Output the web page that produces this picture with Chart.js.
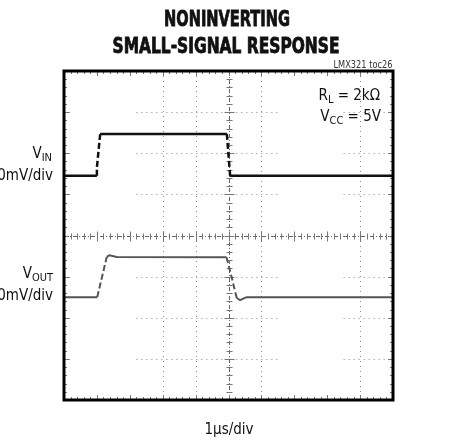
<!DOCTYPE html>
<html>
<head>
<meta charset="utf-8">
<script src="https://cdn.jsdelivr.net/npm/chart.js@4/dist/chart.umd.min.js"></script>
<style>
html, body { margin: 0; padding: 0; background: #fff; }
canvas { display: block; }
</style>
</head>
<body>
<canvas id="scope" width="457" height="440"></canvas>
<script>
// Traces in screen divisions (x: 1us/div, y: 50mV/div)
const vinTime  = [0, 1.0, 1.0, 1.1, 4.95, 5.05, 10];
const vinLevel = [5.45, 5.45, 5.65, 6.47, 6.47, 5.45, 5.45];
const voutTime  = [0, 1.01, 1.3, 1.38, 1.6, 4.94, 5.1, 5.25, 5.35, 5.55, 10];
const voutLevel = [2.5, 2.5, 3.48, 3.52, 3.48, 3.47, 2.97, 2.48, 2.43, 2.5, 2.5];

// graticule pieces that actually show on the screen
const gridCols = [3, 4, 6, 9];
const gridRows = [1, 2, 3, 5, 6, 7];
const gridRowSpans = [[0, 0.25], [2.2, 6.6], [8.5, 10]];

const FONT = "'Liberation Sans Narrow', 'DejaVu Sans Condensed', 'Arial Narrow', sans-serif";

function line(ctx, x0, y0, x1, y1) {
    ctx.beginPath();
    ctx.moveTo(x0, y0);
    ctx.lineTo(x1, y1);
    ctx.stroke();
}

// squeeze/stretch a string to a given width (the scope fonts are condensed)
function fitText(ctx, str, cx, base, w, heavy) {
    const m = ctx.measureText(str).width;
    ctx.save();
    ctx.translate(cx, base);
    ctx.scale(w / m, 1);
    ctx.textAlign = 'center';
    ctx.fillText(str, 0, 0);
    if (heavy) {
        ctx.lineWidth = 0.8;
        ctx.strokeStyle = ctx.fillStyle;
        ctx.strokeText(str, 0, 0);
    }
    ctx.restore();
}

// text with a subscript part, right aligned at xr
function subText(ctx, parts, xr, base, size) {
    const big = size + 'px ' + FONT;
    const small = Math.round(size * 0.72) + 'px ' + FONT;
    let total = 0;
    parts.forEach(p => { ctx.font = p[1] ? small : big; total += ctx.measureText(p[0]).width; });
    let x = xr - total;
    ctx.textAlign = 'left';
    parts.forEach(p => {
        ctx.font = p[1] ? small : big;
        ctx.fillText(p[0], x, p[1] ? base + 3 : base);
        x += ctx.measureText(p[0]).width;
    });
}

const steepDash = c => {
    const dx = Math.abs(c.p1.x - c.p0.x), dy = Math.abs(c.p1.y - c.p0.y);
    return dy > 2 * dx + 4 ? [6, 3] : undefined;
};

const scopeScreen = {
    id: 'scopeScreen',
    beforeDatasetsDraw(chart) {
        const { ctx, chartArea: a, scales: { x, y } } = chart;
        ctx.save();
        ctx.lineWidth = 1;
        ctx.strokeStyle = '#8a8a8a';
        ctx.setLineDash([1, 4]);
        gridCols.forEach(v => {
            const px = Math.round(x.getPixelForValue(v)) + 0.5;
            line(ctx, px, a.top, px, a.bottom);
        });
        gridRows.forEach(r => {
            const py = Math.round(y.getPixelForValue(r)) + 0.5;
            gridRowSpans.forEach(([s, e]) => line(ctx, x.getPixelForValue(s), py, x.getPixelForValue(e), py));
        });

        // centre cross, dash-dot
        ctx.strokeStyle = '#666';
        ctx.setLineDash([4, 2, 1, 2]);
        const cy = Math.round(y.getPixelForValue(4)) + 0.5;
        const cx = Math.round(x.getPixelForValue(5)) + 0.5;
        line(ctx, a.left, cy, a.right, cy);
        line(ctx, cx, a.top, cx, a.bottom);

        // minor ticks, 5 per division
        ctx.setLineDash([]);
        ctx.strokeStyle = '#777';
        for (let i = 0; i <= 50; i++) {
            const px = Math.round(x.getPixelForValue(i / 5)) + 0.5;
            const len = i % 5 === 0 ? 5 : 3;
            line(ctx, px, a.top, px, a.top + len);
            line(ctx, px, a.bottom - len, px, a.bottom);
            line(ctx, px, cy - len, px, cy + len);
        }
        for (let i = 0; i <= 40; i++) {
            const py = Math.round(y.getPixelForValue(i / 5)) + 0.5;
            const len = i % 5 === 0 ? 5 : 3;
            line(ctx, a.left, py, a.left + len, py);
            line(ctx, a.right - len, py, a.right, py);
            line(ctx, cx - len, py, cx + len, py);
        }
        ctx.restore();
    },
    afterDraw(chart) {
        const { ctx, chartArea: a } = chart;
        ctx.save();
        ctx.strokeStyle = '#000';
        ctx.lineWidth = 3;
        ctx.strokeRect(a.left, a.top, a.right - a.left, a.bottom - a.top);

        ctx.fillStyle = '#111';
        ctx.font = 'bold 21px ' + FONT;
        fitText(ctx, 'NONINVERTING', 227, 26, 126, true);
        fitText(ctx, 'SMALL-SIGNAL RESPONSE', 226, 53, 227, true);

        ctx.fillStyle = '#333';
        ctx.font = '10px ' + FONT;
        fitText(ctx, 'LMX321 toc26', 363, 68, 59);

        ctx.fillStyle = '#111';
        subText(ctx, [['R'], ['L', 1], [' = 2k\u03a9']], 380, 100, 15);
        subText(ctx, [['V'], ['CC', 1], [' = 5V']], 381, 121, 15);

        subText(ctx, [['V'], ['IN', 1]], 52, 158, 15);
        subText(ctx, [['50mV/div']], 53, 180, 15);
        subText(ctx, [['V'], ['OUT', 1]], 53, 278, 15);
        subText(ctx, [['50mV/div']], 53, 300, 15);

        ctx.font = '15px ' + FONT;
        ctx.textAlign = 'center';
        ctx.fillText('1\u00b5s/div', 229, 434);
        ctx.restore();
    }
};

const chart = new Chart(document.getElementById('scope'), {
    type: 'line',
    data: {
        datasets: [
            {
                label: 'VIN',
                data: vinTime.map((t, i) => ({ x: t, y: vinLevel[i] })),
                borderColor: '#111',
                borderWidth: 2.5,
                pointRadius: 0,
                tension: 0,
                segment: { borderDash: steepDash },
            },
            {
                label: 'VOUT',
                data: voutTime.map((t, i) => ({ x: t, y: voutLevel[i] })),
                borderColor: '#555',
                borderWidth: 2,
                pointRadius: 0,
                tension: 0,
                segment: { borderDash: steepDash },
            },
        ],
    },
    options: {
        responsive: false,
        animation: false,
        events: [],
        layout: { padding: { left: 64, right: 64, top: 71, bottom: 40 } },
        scales: {
            x: { type: 'linear', min: 0, max: 10, display: false },
            y: { type: 'linear', min: 0, max: 8, display: false },
        },
        plugins: {
            legend: { display: false },
            tooltip: { enabled: false },
        },
    },
    plugins: [scopeScreen],
});
</script>
</body>
</html>
